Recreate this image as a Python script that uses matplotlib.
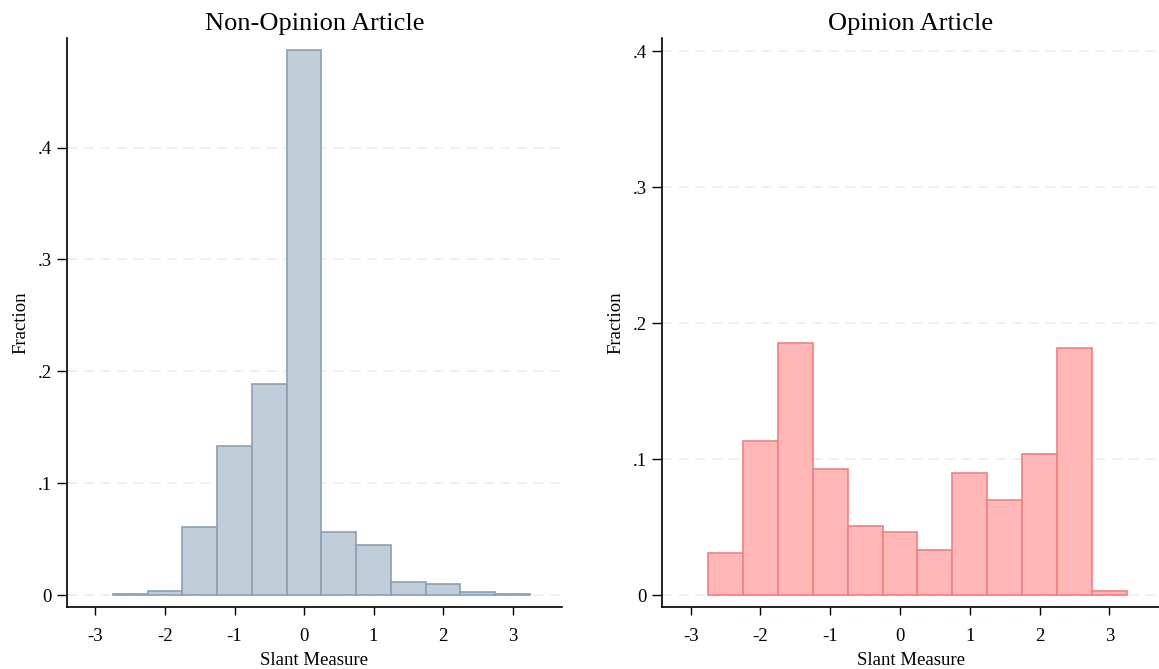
import matplotlib
matplotlib.use("Agg")
import matplotlib.pyplot as plt

# bin centres (width 0.5) and fractions
bin_centers = [-2.5, -2.0, -1.5, -1.0, -0.5, 0.0, 0.5, 1.0, 1.5, 2.0, 2.5, 3.0]
non_opinion = [0.0005, 0.004, 0.061, 0.133, 0.189, 0.487, 0.056, 0.045, 0.012, 0.010, 0.003, 0.001]
opinion = [0.031, 0.113, 0.185, 0.093, 0.051, 0.046, 0.033, 0.090, 0.070, 0.104, 0.182, 0.003]

x_ticks = [-3, -2, -1, 0, 1, 2, 3]
y_ticks = [0, 0.1, 0.2, 0.3, 0.4]
y_labels = ["0", ".1", ".2", ".3", ".4"]

plt.rcParams["font.family"] = ["Liberation Serif", "DejaVu Serif"]

fig = plt.figure(figsize=(11.59, 6.69), dpi=100)
ax1 = fig.add_axes([0.0578, 0.0927, 0.4271, 0.8505])
ax2 = fig.add_axes([0.5712, 0.0927, 0.4288, 0.8505])

panels = [
    (ax1, non_opinion, "Non-Opinion Article", "#c1cdd9", "#8aa0b6", (-0.0107, 0.498)),
    (ax2, opinion, "Opinion Article", "#ffb7b7", "#f47f7f", (-0.0088, 0.4096)),
]

for ax, vals, title, fill, edge, ylim in panels:
    ax.bar(bin_centers, vals, width=0.5, color=fill, edgecolor=edge, linewidth=1.2, zorder=2)
    ax.set_xlim(-3.41, 3.71)
    ax.set_ylim(*ylim)
    ax.set_xticks(x_ticks)
    ax.set_xticklabels([str(t) for t in x_ticks])
    ax.set_yticks(y_ticks)
    ax.set_yticklabels(y_labels)
    ax.yaxis.grid(True, color="#eeeeee", linestyle=(0, (6, 4)), linewidth=1.2, zorder=0)
    ax.set_axisbelow(True)
    for s in ["top", "right"]:
        ax.spines[s].set_visible(False)
    ax.spines["left"].set_linewidth(1.2)
    ax.spines["bottom"].set_linewidth(1.2)
    ax.tick_params(axis="x", direction="out", length=6, width=1, labelsize=13.5, pad=9)
    ax.tick_params(axis="y", direction="out", length=7, width=1, labelsize=13.5, pad=4)
    ax.set_title(title, fontsize=19, pad=6)
    ax.set_xlabel("Slant Measure", fontsize=13.5, labelpad=5)
    ax.set_ylabel("Fraction", fontsize=13.5, labelpad=6)

fig.savefig("out.png", dpi=100)
